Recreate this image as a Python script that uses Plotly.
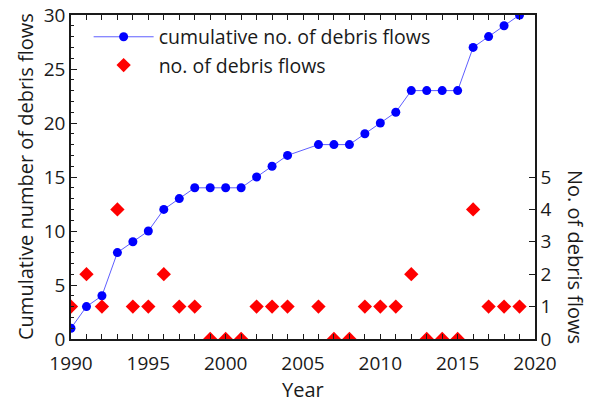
import plotly.graph_objects as go

years = [1990, 1991, 1992, 1993, 1994, 1995, 1996, 1997, 1998, 1999, 2000, 2001, 2002, 2003, 2004,
         2006, 2007, 2008, 2009, 2010, 2011, 2012, 2013, 2014, 2015, 2016, 2017, 2018, 2019]
counts = [1, 2, 1, 4, 1, 1, 2, 1, 1, 0, 0, 0, 1, 1, 1,
          1, 0, 0, 1, 1, 1, 2, 0, 0, 0, 4, 1, 1, 1]
cumulative = [1, 3, 4, 8, 9, 10, 12, 13, 14, 14, 14, 14, 15, 16, 17,
              18, 18, 18, 19, 20, 21, 23, 23, 23, 23, 27, 28, 29, 30]

x_ticks = list(range(1990, 2021))
x_ticktext = [str(v) if v % 5 == 0 else "" for v in x_ticks]
y2_ticks = [0, 1, 2, 3, 4, 5]

FONT = "Open Sans"
INK = "#1a1a1a"

fig = go.Figure()
fig.add_trace(go.Scatter(
    x=years, y=cumulative, mode="lines+markers", name="cumulative no. of debris flows",
    line=dict(color="rgba(40,40,255,0.75)", width=1),
    marker=dict(color="#0000ff", size=9, symbol="circle"),
    yaxis="y"))
fig.add_trace(go.Scatter(
    x=years, y=counts, mode="markers", name="no. of debris flows",
    marker=dict(color="#ff0000", size=11, symbol="diamond"),
    yaxis="y2"))

fig.update_layout(
    width=589, height=407,
    margin=dict(l=71, r=54, t=15, b=68),
    paper_bgcolor="white", plot_bgcolor="white",
    font=dict(family=FONT, size=19, color=INK),
    showlegend=True,
    legend=dict(x=0.038, y=0.992, xanchor="left", yanchor="top", bgcolor="rgba(0,0,0,0)",
                font=dict(family=FONT, size=19.5, color=INK), tracegroupgap=0, itemwidth=60),
    xaxis=dict(range=[1990, 2020], tickvals=x_ticks, ticktext=x_ticktext,
               ticks="inside", ticklen=5, tickcolor=INK, tickwidth=1,
               showline=True, linecolor=INK, linewidth=1.5, mirror="ticks",
               showgrid=False, zeroline=False, automargin=False,
               ticklabelstandoff=6,
               tickfont=dict(family=FONT, size=19, color=INK)),
    yaxis=dict(range=[0, 30], dtick=5, tick0=0,
               ticks="inside", ticklen=6, tickcolor=INK, tickwidth=1,
               minor=dict(dtick=1, ticks="inside", ticklen=3, tickcolor=INK, showgrid=False),
               showline=True, linecolor=INK, linewidth=1.5, mirror=False,
               showgrid=False, zeroline=False, automargin=False,
               tickfont=dict(family=FONT, size=19, color=INK)),
    yaxis2=dict(range=[0, 10], tickvals=y2_ticks, overlaying="y", side="right",
                ticks="inside", ticklen=6, tickcolor=INK, tickwidth=1,
                showline=True, linecolor=INK, linewidth=1.5,
                showgrid=False, zeroline=False, automargin=False,
                tickfont=dict(family=FONT, size=19, color=INK)),
)

fig.add_annotation(text="Cumulative number of debris flows", textangle=-90, xref="paper", yref="paper",
                   x=0.0, y=0.5, xshift=-46, xanchor="center", yanchor="middle", showarrow=False,
                   font=dict(family=FONT, size=20, color=INK))
fig.add_annotation(text="No. of debris flows", textangle=90, xref="paper", yref="paper",
                   x=1.0, y=0.253, xshift=41, xanchor="center", yanchor="middle", showarrow=False,
                   font=dict(family=FONT, size=20, color=INK))
fig.add_annotation(text="Year", xref="paper", yref="paper",
                   x=0.5, y=0.0, yshift=-50, xanchor="center", yanchor="middle", showarrow=False,
                   font=dict(family=FONT, size=20, color=INK))

fig.write_html("out.html", config={"displayModeBar": False},
               post_script="document.body.style.margin='0';")
